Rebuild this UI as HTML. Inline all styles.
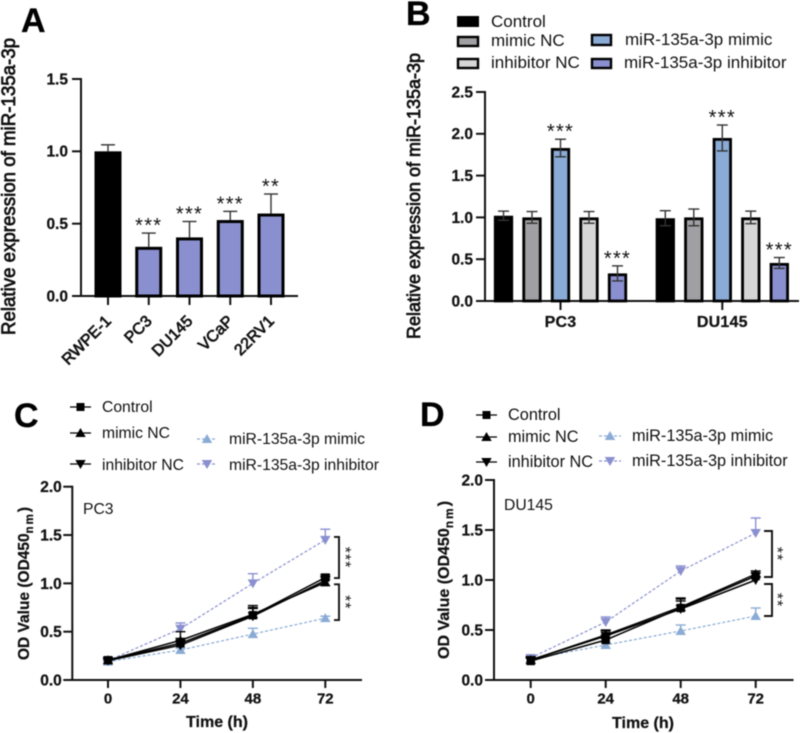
<!DOCTYPE html>
<html lang="en">
<head>
<meta charset="utf-8">
<title>miR-135a-3p expression and cell viability</title>
<style>
html,body{margin:0;padding:0;background:#fff;width:800px;height:733px;overflow:hidden}
svg{display:block;filter:blur(0.4px)}
text{font-family:"Liberation Sans",sans-serif;fill:#111}
.letter{font-size:34px;font-weight:bold;fill:#000;stroke:#000;stroke-width:.3px}
.tick{font-size:15.5px;font-weight:bold;stroke:#111;stroke-width:.25px}
.tick-sm{font-size:15px;font-weight:bold;stroke:#111;stroke-width:.25px}
.tick-lg{font-size:16px;font-weight:bold;letter-spacing:.2px;stroke:#111;stroke-width:.25px}
.tick-rot{font-size:16px;stroke:#111;stroke-width:.7px}
.ytitle{stroke:#111;stroke-width:.75px}
.title{font-size:16px;font-weight:bold;stroke:#111;stroke-width:.25px}
.leg{font-size:15.7px}
.legd{font-size:16.3px}
.legb{font-size:17px}
.sig{font-size:20px;letter-spacing:1.3px}
</style>
</head>
<body>
<svg id="fig" xmlns="http://www.w3.org/2000/svg" width="800" height="733" viewBox="0 0 800 733">
  <rect width="800" height="733" fill="#fff"/>
  <defs>
    <polygon id="m-up" points="0,-5 5.2,4 -5.2,4"/>
    <polygon id="m-down" points="0,5 5.2,-4 -5.2,-4"/>
  </defs>

  <text class="letter" x="21" y="32">A</text>
  <text class="letter" x="406" y="25">B</text>
  <text class="letter" x="14" y="427">C</text>
  <text class="letter" x="420" y="426">D</text>

  <text class="ytitle" style="font-size:19px" transform="translate(15,186.5) rotate(-90)" text-anchor="middle" textLength="297" lengthAdjust="spacingAndGlyphs">Relative expression of miR-135a-3p</text>
  <text class="ytitle" style="font-size:18.3px" transform="translate(420,196) rotate(-90)" text-anchor="middle" textLength="286" lengthAdjust="spacingAndGlyphs">Relative expression of miR-135a-3p</text>
  <text class="title" transform="translate(29,660) rotate(-90)" style="font-size:15.5px">OD Value (OD450<tspan dy="4" font-size="11.5" letter-spacing="2">nm</tspan><tspan dy="-4">)</tspan></text>
  <text class="title" transform="translate(449,659) rotate(-90)" style="font-size:16px">OD Value (OD450<tspan dy="4" font-size="12" letter-spacing="2">nm</tspan><tspan dy="-4">)</tspan></text>
  <text class="title" x="217" y="727" text-anchor="middle">Time (h)</text>
  <text class="title" x="643" y="728" text-anchor="middle">Time (h)</text>
  <text class="leg" x="83" y="514">PC3</text>
  <text class="leg" x="504" y="510">DU145</text>

  <g>
    <g><rect x="457" y="16" width="22" height="11" fill="#000"/><text class="legb" x="491" y="27">Control</text></g>
    <g><rect x="458" y="37" width="20" height="9" fill="#a0a0a4" stroke="#000" stroke-width="2.4"/><text class="legb" x="491" y="46">mimic NC</text></g>
    <g><rect x="458" y="59" width="20" height="9" fill="#d6d6d6" stroke="#000" stroke-width="2.4"/><text class="legb" x="491" y="68">inhibitor NC</text></g>
    <g><rect x="592" y="35" width="19" height="10" fill="#8aabd5" stroke="#000" stroke-width="2.4"/><text class="legb" x="625" y="45">miR-135a-3p mimic</text></g>
    <g><rect x="592" y="59" width="19" height="9" fill="#8a90cf" stroke="#000" stroke-width="2.4"/><text class="legb" x="624" y="68">miR-135a-3p inhibitor</text></g>
  </g>

  <g>
    <g><line x1="70" x2="91" y1="407" y2="407" stroke="#000" stroke-width="1.3"/><rect x="76.5" y="403" width="8" height="8" fill="#000"/><text class="leg" x="102" y="412">Control</text></g>
    <g><line x1="70" x2="91" y1="433" y2="433" stroke="#000" stroke-width="1.3"/><use href="#m-up" x="80.5" y="433" fill="#000"/><text class="leg" x="102" y="438">mimic NC</text></g>
    <g><line x1="70" x2="91" y1="464" y2="464" stroke="#000" stroke-width="1.3"/><use href="#m-down" x="80.5" y="464" fill="#000"/><text class="leg" x="102" y="470">inhibitor NC</text></g>
    <g><line x1="197" x2="217" y1="439" y2="439" stroke="#8aabd5" stroke-width="1.2" stroke-dasharray="3 2"/><use href="#m-up" x="207" y="439" fill="#8aabd5"/><text class="leg" x="229" y="444">miR-135a-3p mimic</text></g>
    <g><line x1="197" x2="217" y1="464" y2="464" stroke="#8a90cf" stroke-width="1.2" stroke-dasharray="3 2"/><use href="#m-down" x="207" y="464" fill="#8a90cf"/><text class="leg" x="229" y="470">miR-135a-3p inhibitor</text></g>
  </g>

  <g>
    <g><line x1="476" x2="497" y1="415" y2="415" stroke="#000" stroke-width="1.3"/><rect x="482.5" y="411" width="8" height="8" fill="#000"/><text class="legd" x="508" y="420">Control</text></g>
    <g><line x1="476" x2="497" y1="437" y2="437" stroke="#000" stroke-width="1.3"/><use href="#m-up" x="486.5" y="437" fill="#000"/><text class="legd" x="508" y="442">mimic NC</text></g>
    <g><line x1="476" x2="497" y1="462" y2="462" stroke="#000" stroke-width="1.3"/><use href="#m-down" x="486.5" y="462" fill="#000"/><text class="legd" x="508" y="467">inhibitor NC</text></g>
    <g><line x1="599" x2="621" y1="436" y2="436" stroke="#8aabd5" stroke-width="1.2" stroke-dasharray="3 2"/><use href="#m-up" x="610" y="436" fill="#8aabd5"/><text class="legd" x="632" y="441">miR-135a-3p mimic</text></g>
    <g><line x1="599" x2="621" y1="461" y2="461" stroke="#8a90cf" stroke-width="1.2" stroke-dasharray="3 2"/><use href="#m-down" x="610" y="461" fill="#8a90cf"/><text class="legd" x="632" y="466">miR-135a-3p inhibitor</text></g>
  </g>
</svg>
<script>
// ---------- Panel A ----------
var aCategories = ['RWPE-1', 'PC3', 'DU145', 'VCaP', '22RV1'];
var aValues = [1.0, 0.34, 0.405, 0.525, 0.57];
var aErrors = [0.045, 0.095, 0.11, 0.06, 0.135];
var aSig = ['', '***', '***', '***', '**'];
var aTicks = [0, 0.5, 1.0, 1.5];

// ---------- Panel B ----------
var bGroups = ['PC3', 'DU145'];
var bSeries = ['control', 'mimic-nc', 'mimic', 'inhibitor-nc', 'inhibitor'];
var bValuesPC3 = [1.02, 1.0, 1.83, 1.0, 0.33];
var bValuesDU145 = [0.99, 1.0, 1.95, 1.0, 0.455];
var bErrorsPC3 = [0.055, 0.07, 0.105, 0.07, 0.09];
var bErrorsDU145 = [0.09, 0.1, 0.155, 0.075, 0.065];
var bSigPC3 = ['', '', '***', '', '***'];
var bSigDU145 = ['', '', '***', '', '***'];
var bTicks = [0, 0.5, 1.0, 1.5, 2.0, 2.5];

// ---------- Panels C and D ----------
var timeLabels = [0, 24, 48, 72];
var odTicks = [0, 0.5, 1.0, 1.5, 2.0];

var cControl = [0.205, 0.38, 0.67, 1.06];
var cMimicNC = [0.205, 0.41, 0.68, 1.01];
var cInhibitorNC = [0.2, 0.36, 0.66, 1.03];
var cMimic = [0.19, 0.31, 0.475, 0.64];
var cInhibitor = [0.2, 0.53, 1.0, 1.45];
var cControlErr = [0.02, 0.05, 0.07, 0.03];
var cMimicNCErr = [0.02, 0.09, 0.09, 0.03];
var cInhibitorNCErr = [0.02, 0.05, 0.09, 0.04];
var cMimicErr = [0.01, 0.02, 0.06, 0.02];
var cInhibitorErr = [0.01, 0.06, 0.1, 0.11];
var cBrackets = [[1.055, 1.48, '***'], [0.62, 0.99, '**']];

var dControl = [0.19, 0.40, 0.72, 1.04];
var dMimicNC = [0.2, 0.45, 0.73, 1.06];
var dInhibitorNC = [0.2, 0.44, 0.71, 1.0];
var dMimic = [0.21, 0.35, 0.49, 0.64];
var dInhibitor = [0.22, 0.58, 1.09, 1.47];
var dControlErr = [0.03, 0.05, 0.09, 0.03];
var dMimicNCErr = [0.02, 0.05, 0.09, 0.03];
var dInhibitorNCErr = [0.03, 0.05, 0.08, 0.03];
var dMimicErr = [0.02, 0.02, 0.06, 0.08];
var dInhibitorErr = [0.02, 0.05, 0.05, 0.15];
var dBrackets = [[1.03, 1.49, '**'], [0.64, 0.96, '**']];

var NS = 'http://www.w3.org/2000/svg';
var fig = document.getElementById('fig');
var BLUE = '#8aabd5', PURPLE = '#8a90cf', GREY = '#a0a0a4', LIGHT = '#d6d6d6';
var bColors = ['#000', GREY, BLUE, LIGHT, PURPLE];

function mk(tag, attrs, parent) {
  var el = document.createElementNS(NS, tag);
  for (var k in attrs) el.setAttribute(k, attrs[k]);
  (parent || fig).appendChild(el);
  return el;
}
function group(name) {
  var g = mk('g', {});
  
  
  return g;
}
function line(g, x1, y1, x2, y2, color, w, dash) {
  var a = {x1: x1, y1: y1, x2: x2, y2: y2, stroke: color, 'stroke-width': w};
  if (dash) a['stroke-dasharray'] = dash;
  return mk('line', a, g);
}
function label(g, x, y, str, cls, anchor) {
  var t = mk('text', {x: x, y: y, 'class': cls, 'text-anchor': anchor || 'middle'}, g);
  t.textContent = str;
  return t;
}
function linScale(v0, p0, v1, p1) {
  return function (v) { return p0 + (v - v0) * (p1 - p0) / (v1 - v0); };
}
function drawAxes(prefix, axisX, y, ticks, yBase, xEnd, xStart, labelGap) {
  var g = group(prefix + '-axes');
  var top = y(ticks[ticks.length - 1]);
  var yAxis = line(g, axisX, top - 1, axisX, yBase + 1, '#111', 2);
  
  
  var xAxis = line(g, xStart, yBase, xEnd, yBase, '#111', 2);
  
  
  ticks.forEach(function (t) {
    var py = y(t);
    var tm = line(g, axisX - 9, py, axisX, py, '#111', 2);
    
    
    var tl = label(g, axisX - labelGap, py + 5.4, t.toFixed(1), 'tick', 'end');
    
    
  });
  return g;
}

// Panel A
(function () {
  var y = linScale(0, 296, 1.5, 79);
  var xA = linScale(0, 108, 4, 271);
  var g = drawAxes('panel-a', 81, y, aTicks, 296, 298, 72, 13);
  aCategories.forEach(function (c, i) {
    var cx = xA(i), top = y(aValues[i]), w = 24;
    var e = y(aValues[i] + aErrors[i]);
    var eb = group('error-bar-' + c);
    line(eb, cx, e, cx, top, '#333', 1.4);
    line(eb, cx - 7, e, cx + 7, e, '#333', 1.4);
    var fill = i === 0 ? '#000' : PURPLE;
    var r = mk('rect', {x: cx - w / 2, y: top + 1.5, width: w, height: 296 - top - 1.5, fill: fill, stroke: '#000', 'stroke-width': 3});
    
    
    var tm = line(g, cx, 296, cx, 305, '#111', 2);
    
    
    var tl = mk('text', {'class': 'tick-rot', 'text-anchor': 'end', transform: 'translate(' + (cx + 4) + ',322) rotate(-45)'});
    tl.textContent = c;
    
    
    if (aSig[i]) {
      var s = label(null, cx, e - 1, aSig[i], 'sig');
      
      
    }
  });
})();

// Panel B
(function () {
  var y = linScale(0, 301, 2.5, 92);
  var g = drawAxes('panel-b', 485, y, bTicks, 301, 799, 485, 12);
  var groupCenter = linScale(0, 560.5, 1, 722.3);
  var values = [bValuesPC3, bValuesDU145];
  var errors = [bErrorsPC3, bErrorsDU145];
  var sigs = [bSigPC3, bSigDU145];
  bGroups.forEach(function (gr, gi) {
    var gc = groupCenter(gi);
    var tm = line(g, gc, 301, gc, 310, '#111', 2);
    
    
    var tl = label(g, gc, 327, gr, 'tick-lg');
    
    
    bSeries.forEach(function (s, i) {
      var cx = gc + (i - 2) * 28.5, w = 16.5;
      var v = values[gi][i], er = errors[gi][i], top = y(v);
      var r = mk('rect', {x: cx - w / 2, y: top + 1.4, width: w, height: 301 - top - 1.4, fill: bColors[i], stroke: '#000', 'stroke-width': 2.8});
      
      
      var eb = group('error-bar-' + gr + '-' + s);
      var hi = y(v + er), lo = y(v - er);
      line(eb, cx, hi, cx, lo, '#333', 1.4);
      line(eb, cx - 5.5, hi, cx + 5.5, hi, '#333', 1.4);
      line(eb, cx - 5.5, lo, cx + 5.5, lo, '#333', 1.4);
      if (sigs[gi][i]) {
        var st = label(null, cx, hi - 1, sigs[gi][i], 'sig');
        
        
      }
    });
  });
})();

// Panels C, D
function drawLines(prefix, axisX, x, y, xEnd, series, brackets, brX, brW, starX, labelGap) {
  var g = drawAxes(prefix, axisX, y, odTicks, 680, xEnd, axisX, labelGap);
  timeLabels.forEach(function (t, i) {
    var px = x(i);
    var tm = line(g, px, 680, px, 688, '#111', 2);
    
    
    var tl = label(g, px, 703.5, String(t), 'tick-sm');
    
    
  });
  series.forEach(function (s) {
    var sg = group(prefix + '-series-' + s.name);
    var pts = s.vals.map(function (v, i) { return x(i) + ',' + y(v); }).join(' ');
    var pl = mk('polyline', {points: pts, fill: 'none', stroke: s.color, 'stroke-width': s.dash ? 1.2 : 1.5}, sg);
    if (s.dash) pl.setAttribute('stroke-dasharray', '3 2');
    
    
    s.vals.forEach(function (v, i) {
      var px = x(i), py = y(v), e = y(v + s.errs[i]);
      line(sg, px, py, px, e, s.color, 1.4);
      line(sg, px - 5, e, px + 5, e, s.color, 1.4);
      var m;
      if (s.shape === 'square') {
        m = mk('rect', {x: px - 4.2, y: py - 4.2, width: 8.4, height: 8.4, fill: s.color}, sg);
      } else {
        m = mk('polygon', {points: (s.shape === 'up'
          ? [px, py - 5, px + 5.2, py + 4, px - 5.2, py + 4]
          : [px, py + 5, px + 5.2, py - 4, px - 5.2, py - 4]).join(' '), fill: s.color}, sg);
      }
      
      
    });
  });
  brackets.forEach(function (b) {
    var bg = group(prefix + '-significance-bracket');
    var y0 = y(b[0]), y1 = y(b[1]);
    mk('polyline', {points: [brX, y0, brX + brW, y0, brX + brW, y1, brX, y1].join(' '), fill: 'none', stroke: '#111', 'stroke-width': 1.9}, bg);
    var cy = (y0 + y1) / 2;
    var t = mk('text', {'class': 'sig', 'text-anchor': 'middle', transform: 'translate(' + (starX - 7) + ',' + cy + ') rotate(90)', style: 'font-size:16px;letter-spacing:1px'}, bg);
    t.textContent = b[2];
  });
}
drawLines('panel-c', 72.3, linScale(0, 108, 3, 325.3), linScale(0, 680, 2, 486.7), 362, [
  {name: 'mimic', vals: cMimic, errs: cMimicErr, color: BLUE, shape: 'up', dash: true},
  {name: 'inhibitor', vals: cInhibitor, errs: cInhibitorErr, color: PURPLE, shape: 'down', dash: true},
  {name: 'mimic-nc', vals: cMimicNC, errs: cMimicNCErr, color: '#000', shape: 'up'},
  {name: 'inhibitor-nc', vals: cInhibitorNC, errs: cInhibitorNCErr, color: '#000', shape: 'down'},
  {name: 'control', vals: cControl, errs: cControlErr, color: '#000', shape: 'square'}
], cBrackets, 334, 5, 347, 10.5);
drawLines('panel-d', 494, linScale(0, 530.7, 3, 755.7), linScale(0, 680, 2, 480), 793.5, [
  {name: 'mimic', vals: dMimic, errs: dMimicErr, color: BLUE, shape: 'up', dash: true},
  {name: 'inhibitor', vals: dInhibitor, errs: dInhibitorErr, color: PURPLE, shape: 'down', dash: true},
  {name: 'mimic-nc', vals: dMimicNC, errs: dMimicNCErr, color: '#000', shape: 'up'},
  {name: 'inhibitor-nc', vals: dInhibitorNC, errs: dInhibitorNCErr, color: '#000', shape: 'down'},
  {name: 'control', vals: dControl, errs: dControlErr, color: '#000', shape: 'square'}
], dBrackets, 764, 8, 779, 11);
</script>
</body>
</html>
